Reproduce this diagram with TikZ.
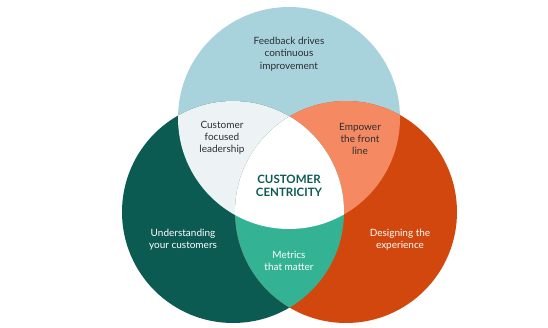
\documentclass[tikz,border=0pt]{standalone}
\usepackage{fontspec}
\setmainfont{Lato}
\definecolor{cblue}{HTML}{A8D3DD}
\definecolor{cteal}{HTML}{0C5B53}
\definecolor{corange}{HTML}{D2470D}
\definecolor{cpale}{HTML}{EDF3F4}
\definecolor{csalmon}{HTML}{F58A62}
\definecolor{cmint}{HTML}{34B294}
\definecolor{cdark}{HTML}{2A2F31}
\begin{document}
\begin{tikzpicture}[x=1pt,y=-1pt,
  lbl/.style={align=center,font=\fontsize{10}{12.2}\selectfont,text=cdark},
  wlbl/.style={lbl,text=white},
  title/.style={align=center,font=\fontsize{11.5}{12.5}\selectfont\bfseries,text=cteal}]
\useasboundingbox (0,0) rectangle (548,327);
\fill[white] (0,0) rectangle (548,327);
\def\R{111}
\coordinate (ct) at (289,118);
\coordinate (cl) at (233,212);
\coordinate (cr) at (346,212);
\fill[cblue] (ct) circle (\R);
\fill[cteal] (cl) circle (\R);
\fill[corange] (cr) circle (\R);
\begin{scope}
  \clip (ct) circle (\R);
  \fill[cpale] (cl) circle (\R);
  \fill[csalmon] (cr) circle (\R);
\end{scope}
\begin{scope}
  \clip (cl) circle (\R);
  \fill[cmint] (cr) circle (\R);
  \clip (cr) circle (\R);
  \fill[white] (ct) circle (\R);
\end{scope}
\node[lbl] (fb) at (289,54) {Feedback drives\\continuous\\improvement};
\node[lbl] (cfl) at (222,138) {Customer\\focused\\leadership};
\node[lbl] (emp) at (360,139) {Empower\\the front\\line};
\node[title] (cc) at (289,186) {CUSTOMER\\CENTRICITY};
\node[wlbl] (und) at (183,240) {Understanding\\your customers};
\node[wlbl] (des) at (400,240) {Designing the\\experience};
\node[wlbl] (met) at (289,261) {Metrics\\that matter};
\end{tikzpicture}
\end{document}
